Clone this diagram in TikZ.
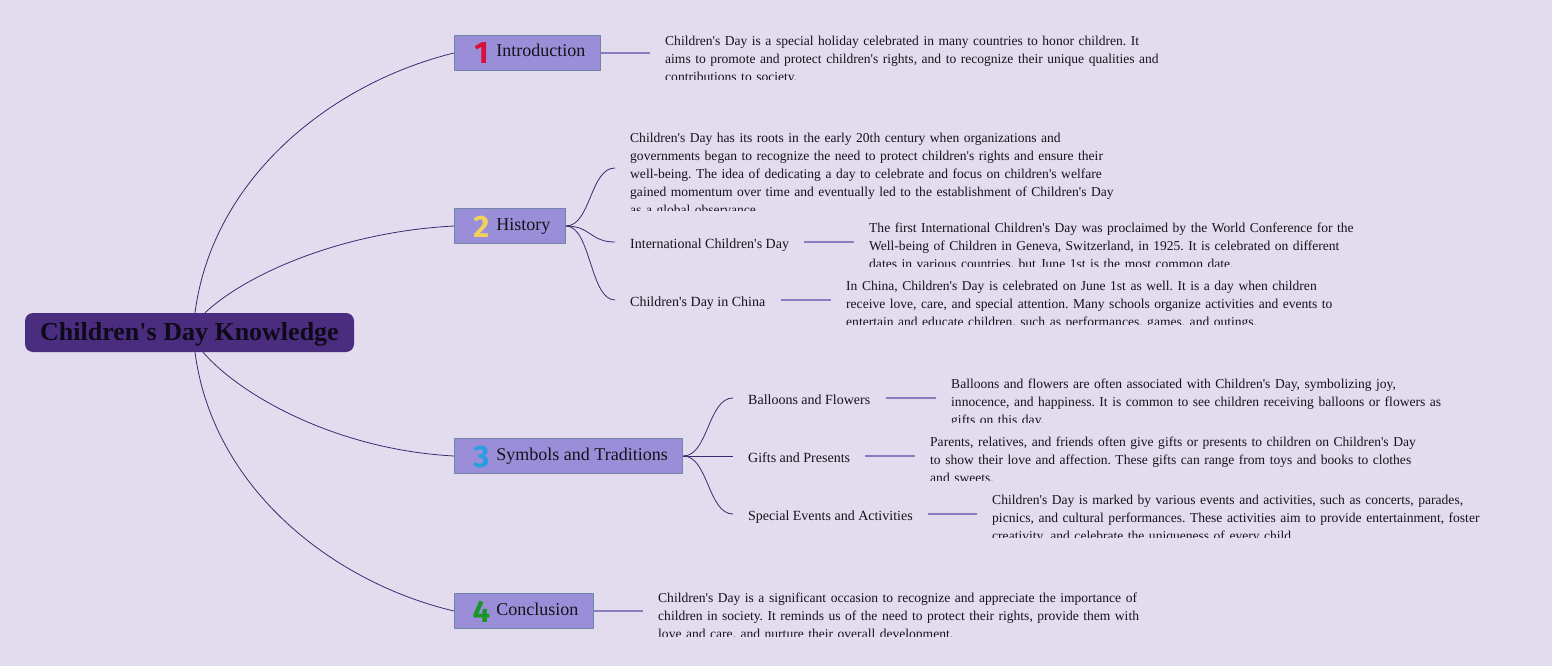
\documentclass[tikz,border=0pt]{standalone}
\usepackage{fontspec}
\setmainfont{Liberation Serif}[Ligatures=TeXOff]
\newfontfamily\digitfont{Fira Sans}
\frenchspacing
\definecolor{bgcol}{RGB}{227,219,238}
\definecolor{rootcol}{RGB}{75,45,128}
\definecolor{rootText}{RGB}{15,10,25}
\definecolor{brfill}{RGB}{154,142,217}
\definecolor{brdraw}{RGB}{111,134,166}
\definecolor{curvecol}{RGB}{58,44,110}
\definecolor{leafcol}{RGB}{138,125,192}
\definecolor{txt}{RGB}{20,20,25}
\definecolor{numA}{RGB}{214,18,60}
\definecolor{numB}{RGB}{240,210,90}
\definecolor{numC}{RGB}{40,158,224}
\definecolor{numD}{RGB}{26,150,40}
\newcommand\brnum[2]{\hspace*{18pt}\makebox[18pt][c]{\raisebox{-7pt}{\digitfont\bfseries\fontsize{31}{31}\selectfont\color{#1}#2}}\hspace*{6pt}}
\begin{document}
\begin{tikzpicture}[x=1pt,y=-1pt,
  curve/.style={draw=curvecol, line width=0.8pt},
  leaf/.style={draw=leafcol, line width=1.4pt},
  root/.style={fill=rootcol, rounded corners=8pt, minimum width=329pt, minimum height=39pt, inner sep=0pt, text height=22pt, text depth=5.6pt, font=\bfseries\fontsize{26}{30}\selectfont, text=rootText},
  branch/.style={anchor=west, fill=brfill, draw=brdraw, line width=0.9pt, inner xsep=0pt, inner ysep=0pt, text height=21.5pt, text depth=13.5pt, font=\fontsize{18}{22}\selectfont, text=txt},
  sub/.style={anchor=west, inner xsep=15pt, inner ysep=0pt, text height=12pt, text depth=0pt, font=\fontsize{14}{18}\selectfont, text=txt},
  desc/.style={anchor=base west, inner xsep=15pt, inner ysep=0pt, text width=600pt, align=left, font=\fontsize{13.55}{18}\selectfont, text=txt}
]
\fill[bgcol] (0,0) rectangle (1552,666);
\useasboundingbox (0,0) rectangle (1552,666);

% root
\node[root] (root) at (189.5,332.5) {Children's Day Knowledge};

% branches
\node[branch] (intro) at (454,53) {\brnum{numA}{1}Introduction\hspace*{15pt}};
\node[branch] (hist) at (454,226) {\brnum{numB}{2}History\hspace*{15pt}};
\node[branch] (symb) at (454,456) {\brnum{numC}{3}Symbols and Traditions\hspace*{15pt}};
\node[branch] (concl) at (454,611) {\brnum{numD}{4}Conclusion\hspace*{15pt}};

\draw[curve] ([xshift=5.5pt]root.north) .. controls (213,175) and (335,82) .. (intro.west);
\draw[curve] ([xshift=15.5pt]root.north) .. controls (245,275) and (340,232) .. (hist.west);
\draw[curve] ([xshift=13.5pt]root.south) .. controls (243,398) and (340,450) .. (symb.west);
\draw[curve] ([xshift=5.5pt]root.south) .. controls (213,490) and (335,583) .. (concl.west);

% sub nodes
\node[sub] (intl) at (615,242) {International Children's Day};
\node[sub] (china) at (615,300) {Children's Day in China};
\node[sub] (ball) at (733,398) {Balloons and Flowers};
\node[sub] (gift) at (733,456) {Gifts and Presents};
\node[sub] (spec) at (733,514) {Special Events and Activities};
\coordinate (histin) at (615,168);

\draw[curve] (hist.east) .. controls +(25,0) and +(-25,0) .. (histin);
\draw[curve] (hist.east) .. controls +(25,0) and +(-25,0) .. (intl.west);
\draw[curve] (hist.east) .. controls +(25,0) and +(-25,0) .. (china.west);
\draw[curve] (symb.east) .. controls +(25,0) and +(-25,0) .. (ball.west);
\draw[curve] (symb.east) -- (gift.west);
\draw[curve] (symb.east) .. controls +(25,0) and +(-25,0) .. (spec.west);

% descriptions (clipped)
\begin{scope}
\clip (640,20) rectangle (1552,79.5);
\node[desc] (introd) at (650,45.5) {Children's Day is a special holiday celebrated in many countries to honor children. It\\aims to promote and protect children's rights, and to recognize their unique qualities and\\contributions to society.};
\end{scope}
\begin{scope}
\clip (610,120) rectangle (1552,210.5);
\node[desc] (histd) at (615,142.5) {Children's Day has its roots in the early 20th century when organizations and\\governments began to recognize the need to protect children's rights and ensure their\\well-being. The idea of dedicating a day to celebrate and focus on children's welfare\\gained momentum over time and eventually led to the establishment of Children's Day\\as a global observance.};
\end{scope}
\begin{scope}
\clip (850,212) rectangle (1552,266.5);
\node[desc] (intld) at (854,232.5) {The first International Children's Day was proclaimed by the World Conference for the\\Well-being of Children in Geneva, Switzerland, in 1925. It is celebrated on different\\dates in various countries, but June 1st is the most common date.};
\end{scope}
\begin{scope}
\clip (830,270) rectangle (1552,324.5);
\node[desc] (chinad) at (831,290.5) {In China, Children's Day is celebrated on June 1st as well. It is a day when children\\receive love, care, and special attention. Many schools organize activities and events to\\entertain and educate children, such as performances, games, and outings.};
\end{scope}
\begin{scope}
\clip (940,368) rectangle (1552,422.5);
\node[desc] (balld) at (936,388.5) {Balloons and flowers are often associated with Children's Day, symbolizing joy,\\innocence, and happiness. It is common to see children receiving balloons or flowers as\\gifts on this day.};
\end{scope}
\begin{scope}
\clip (918,426) rectangle (1552,480.5);
\node[desc] (giftd) at (915,446.5) {Parents, relatives, and friends often give gifts or presents to children on Children's Day\\to show their love and affection. These gifts can range from toys and books to clothes\\and sweets.};
\end{scope}
\begin{scope}
\clip (980,484) rectangle (1552,537.7);
\node[desc] (specd) at (977,504.5) {Children's Day is marked by various events and activities, such as concerts, parades,\\picnics, and cultural performances. These activities aim to provide entertainment, foster\\creativity, and celebrate the uniqueness of every child.};
\end{scope}
\begin{scope}
\clip (646,582) rectangle (1552,636.5);
\node[desc] (concld) at (643,602.5) {Children's Day is a significant occasion to recognize and appreciate the importance of\\children in society. It reminds us of the need to protect their rights, provide them with\\love and care, and nurture their overall development.};
\end{scope}

% leaf connectors
\draw[leaf] (intro.east) -- (intro.east -| introd.west);
\draw[leaf] (intl.east) -- (intl.east -| intld.west);
\draw[leaf] (china.east) -- (china.east -| chinad.west);
\draw[leaf] (ball.east) -- (ball.east -| balld.west);
\draw[leaf] (gift.east) -- (gift.east -| giftd.west);
\draw[leaf] (spec.east) -- (spec.east -| specd.west);
\draw[leaf] (concl.east) -- (concl.east -| concld.west);
\end{tikzpicture}
\end{document}
